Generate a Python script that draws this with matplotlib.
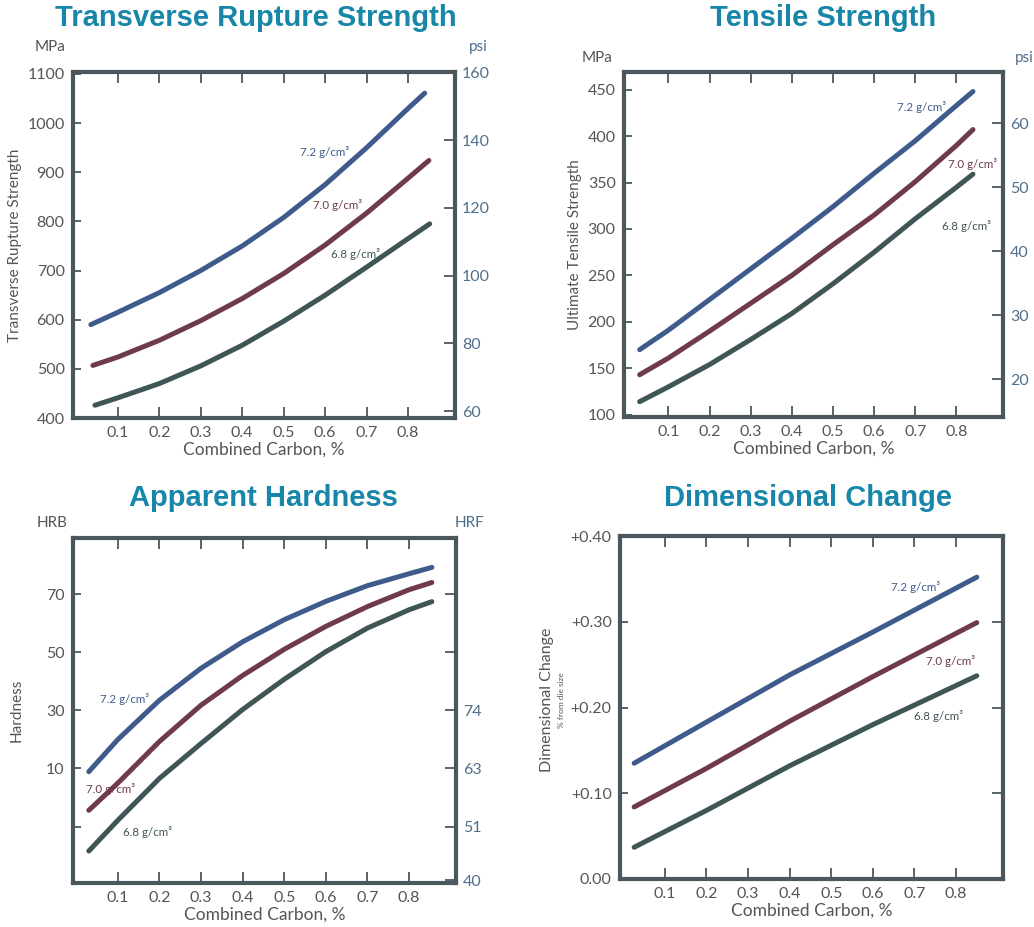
import matplotlib
matplotlib.use("Agg")
import matplotlib.pyplot as plt

plt.rcParams['font.family'] = ['Lato', 'DejaVu Sans']

W, H = 1034, 927

# Transverse rupture strength, MPa
trs_x = [0.035, 0.1, 0.2, 0.3, 0.4, 0.5, 0.6, 0.7, 0.8, 0.84]
trs_72 = [590, 615, 655, 700, 750, 808, 875, 950, 1030, 1061]
trs_70_x = [0.04, 0.1, 0.2, 0.3, 0.4, 0.5, 0.6, 0.7, 0.8, 0.85]
trs_70 = [507, 524, 558, 598, 643, 694, 752, 817, 888, 924]
trs_68_x = [0.045, 0.1, 0.2, 0.3, 0.4, 0.5, 0.6, 0.7, 0.8, 0.852]
trs_68 = [426, 441, 470, 506, 548, 597, 650, 707, 765, 795]

# Ultimate tensile strength, MPa
uts_x = [0.03, 0.1, 0.2, 0.3, 0.4, 0.5, 0.6, 0.7, 0.8, 0.84]
uts_72 = [170, 191, 224, 257, 290, 324, 360, 395, 433, 448]
uts_70 = [143, 161, 190, 220, 250, 283, 315, 351, 390, 407]
uts_68 = [114, 130, 154, 181, 209, 241, 275, 311, 345, 359]

# Apparent hardness, HRB
hrd_x = [0.03, 0.1, 0.2, 0.3, 0.4, 0.5, 0.6, 0.7, 0.8, 0.855]
hrd_72 = [8.9, 20.0, 33.5, 44.5, 53.6, 61.2, 67.5, 72.9, 77.0, 79.2]
hrd_70 = [-4.4, 5.0, 19.3, 31.8, 42.0, 51.0, 58.9, 65.7, 71.5, 74.0]
hrd_68 = [-18.4, -7.8, 6.6, 18.6, 30.3, 40.7, 50.2, 58.3, 64.6, 67.4]

# Dimensional change, % from die size
dim_x = [0.026, 0.2, 0.4, 0.6, 0.85]
dim_72 = [0.135, 0.183, 0.238, 0.288, 0.352]
dim_70 = [0.084, 0.129, 0.184, 0.236, 0.299]
dim_68 = [0.037, 0.080, 0.132, 0.180, 0.237]

carbon_ticks = [0.1, 0.2, 0.3, 0.4, 0.5, 0.6, 0.7, 0.8]
carbon_labels = ['0.1', '0.2', '0.3', '0.4', '0.5', '0.6', '0.7', '0.8']
hrf_pos = [70, 50, 30, 10, -10, -28.5]
hrf_labels = ['', '', '74', '63', '51', '40']

c72 = '#3f5b8c'
c70 = '#6e3a4c'
c68 = '#3f5556'
frame = '#4a585e'
title_c = '#1886a8'
txt = '#555555'
right_c = '#4f6e8c'


def box(x0, y0, x1, y1):
    return [x0 / W, 1 - y1 / H, (x1 - x0) / W, (y1 - y0) / H]


def ftext(x, y, s, **kw):
    fig.text(x / W, 1 - y / H, s, **kw)


def setup(ax, ylim, yticks, ylabels):
    ax.set_xlim(-0.008, 0.913)
    ax.set_ylim(*ylim)
    ax.set_xticks(carbon_ticks)
    ax.set_xticklabels(carbon_labels)
    ax.set_yticks(yticks)
    ax.set_yticklabels(ylabels)
    for s in ax.spines.values():
        s.set_color(frame)
        s.set_linewidth(3)
    ax.tick_params(axis='x', direction='in', length=8, width=1.3, color=frame,
                   top=True, labelsize=11.5, labelcolor=txt, pad=6)
    ax.tick_params(axis='y', direction='in', length=6, width=1.3, color=frame,
                   labelsize=11.5, labelcolor=txt, pad=6)
    ax.set_xlabel('Combined Carbon, %', fontsize=12.5, color=txt, labelpad=1)


def curves(ax, x, y72, y70, y68, x70=None, x68=None):
    kw = dict(lw=3.6, solid_capstyle='round', solid_joinstyle='round')
    ax.plot(x, y72, color=c72, **kw)
    ax.plot(x70 if x70 else x, y70, color=c70, **kw)
    ax.plot(x68 if x68 else x, y68, color=c68, **kw)


def tags(ax, p72, p70, p68):
    for (px, py), col, s in [(p72, c72, '7.2'), (p70, c70, '7.0'), (p68, c68, '6.8')]:
        ax.text(px, py, s + ' g/cm³', color=col, fontsize=8.3, va='center')


def right_axis(ax, ylim, ticks, labels):
    r = ax.twinx()
    r.set_ylim(*ylim)
    r.set_yticks(ticks)
    r.set_yticklabels(labels)
    r.tick_params(axis='y', direction='in', length=8, width=1.3, color=frame,
                  labelsize=11.5, labelcolor=right_c, pad=5)
    for s in r.spines.values():
        s.set_visible(False)
    return r


fig = plt.figure(figsize=(W / 100, H / 100), dpi=100)

# Transverse rupture strength
ax1 = fig.add_axes(box(73, 72, 455, 418))
setup(ax1, (400, 1104), list(range(400, 1101, 100)), [str(v) for v in range(400, 1101, 100)])
curves(ax1, trs_x, trs_72, trs_70, trs_68, trs_70_x, trs_68_x)
tags(ax1, (0.54, 942), (0.57, 834), (0.615, 733))
ax1.set_ylabel('Transverse Rupture Strength', fontsize=11, color=txt, labelpad=4)
right_axis(ax1, (400 / 6.895, 1104 / 6.895), list(range(60, 161, 20)), [str(v) for v in range(60, 161, 20)])
ftext(256, 18, 'Transverse Rupture Strength', fontsize=21, fontweight='bold',
      color=title_c, ha='center', va='center', family='Liberation Sans')
ftext(50, 47, 'MPa', fontsize=11, color=txt, ha='center', va='center')
ftext(478, 47, 'psi', fontsize=11, color=right_c, ha='center', va='center')

# Tensile strength
ax2 = fig.add_axes(box(624, 72, 1003, 417))
setup(ax2, (97.5, 469), list(range(100, 451, 50)), [str(v) for v in range(100, 451, 50)])
curves(ax2, uts_x, uts_72, uts_70, uts_68)
tags(ax2, (0.655, 431), (0.78, 370), (0.764, 303))
ax2.set_ylabel('Ultimate Tensile Strength', fontsize=11, color=txt, labelpad=4)
right_axis(ax2, (97.5 / 6.895, 469 / 6.895), list(range(20, 61, 10)), [str(v) for v in range(20, 61, 10)])
ftext(823, 18, 'Tensile Strength', fontsize=21, fontweight='bold',
      color=title_c, ha='center', va='center', family='Liberation Sans')
ftext(597, 58, 'MPa', fontsize=11, color=txt, ha='center', va='center')
ftext(1024, 58, 'psi', fontsize=11, color=right_c, ha='center', va='center')

# Apparent hardness
ax3 = fig.add_axes(box(73, 538, 456, 883))
setup(ax3, (-29.4, 89.3), [-10, 10, 30, 50, 70], ['', '10', '30', '50', '70'])
curves(ax3, hrd_x, hrd_72, hrd_70, hrd_68)
tags(ax3, (0.058, 33.9), (0.024, 2.8), (0.112, -11.8))
ax3.set_ylabel('Hardness', fontsize=11, color=txt, labelpad=16)
right_axis(ax3, (-29.4, 89.3), hrf_pos, hrf_labels)
ftext(263, 498, 'Apparent Hardness', fontsize=21, fontweight='bold',
      color=title_c, ha='center', va='center', family='Liberation Sans')
ftext(52, 523, 'HRB', fontsize=11, color=txt, ha='center', va='center')
ftext(470, 523, 'HRF', fontsize=11, color=right_c, ha='center', va='center')

# Dimensional change
ax4 = fig.add_axes(box(620, 536, 1003, 879))
setup(ax4, (0, 0.4), [0, 0.1, 0.2, 0.3, 0.4], ['0.00', '+0.10', '+0.20', '+0.30', '+0.40'])
curves(ax4, dim_x, dim_72, dim_70, dim_68)
tags(ax4, (0.644, 0.340), (0.728, 0.254), (0.70, 0.190))
right_axis(ax4, (0, 0.4), [0.1, 0.2, 0.3], ['', '', ''])
ftext(547, 700, 'Dimensional Change', fontsize=11.5, color=txt, rotation=90,
      ha='center', va='center')
ftext(562, 700, '% from die size', fontsize=6, color=txt, rotation=90,
      ha='center', va='center')
ftext(808, 498, 'Dimensional Change', fontsize=21, fontweight='bold',
      color=title_c, ha='center', va='center', family='Liberation Sans')

fig.savefig('out.png', dpi=100)
